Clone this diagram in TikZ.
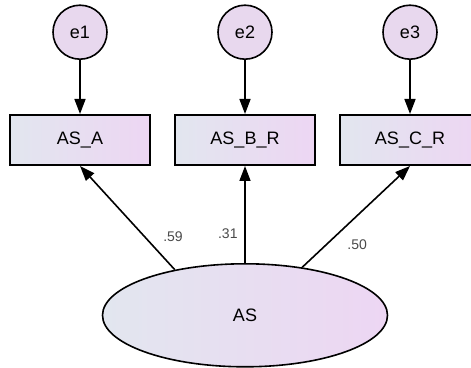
\documentclass[tikz,border=0pt]{standalone}
\usepackage{fontspec}
\setmainfont{Liberation Sans}
\usepackage{tikz}
\usetikzlibrary{shapes.geometric,arrows.meta,positioning}
\usepackage{xcolor}

\definecolor{fillL}{HTML}{E2E6EF}
\definecolor{fillR}{HTML}{EDD6F3}
\definecolor{errfill}{HTML}{E8D8EE}
\definecolor{labgray}{HTML}{4A4A4A}

\begin{document}
\begin{tikzpicture}[
    obs/.style={rectangle, draw, line width=1pt, left color=fillL, right color=fillR, minimum width=70pt, minimum height=25pt, font=\fontsize{9}{11}\selectfont},
    err/.style={circle, draw, line width=0.8pt, fill=errfill, minimum size=27pt, inner sep=0pt, font=\fontsize{9}{11}\selectfont},
    lat/.style={ellipse, draw, line width=0.8pt, left color=fillL, right color=fillR, minimum width=142.5pt, minimum height=51.5pt, inner sep=0pt, font=\fontsize{9}{11}\selectfont},
    arrow/.style={-{Triangle[length=7.5pt,width=5.5pt]}, line width=0.8pt},
    coef/.style={text=labgray, font=\fontsize{7}{8}\selectfont}
]
\useasboundingbox (0,0) rectangle (235.5pt,-184pt);

\node[obs] (asbr) at (122.5pt,-70pt) {AS\_B\_R};
\node[obs, left=11.5pt of asbr] (asa) {AS\_A};
\node[obs, right=11.5pt of asbr] (ascr) {AS\_C\_R};
\node[err, above=27pt of asa] (e1) {e1};
\node[err, above=27pt of asbr] (e2) {e2};
\node[err, above=27pt of ascr] (e3) {e3};
\node[lat, below=48.5pt of asbr] (as) {AS};

\draw[arrow] (e1) -- (asa);
\draw[arrow] (e2) -- (asbr);
\draw[arrow] (e3) -- (ascr);
\draw[arrow] (as.147) -- (asa.south) node[coef, pos=.2, above right] {.59};
\draw[arrow] (as.north) -- (asbr.south) node[coef, pos=.3, left] {.31};
\draw[arrow] (as.40) -- (ascr.south) node[coef, pos=.35, below right] {.50};

\end{tikzpicture}
\end{document}
